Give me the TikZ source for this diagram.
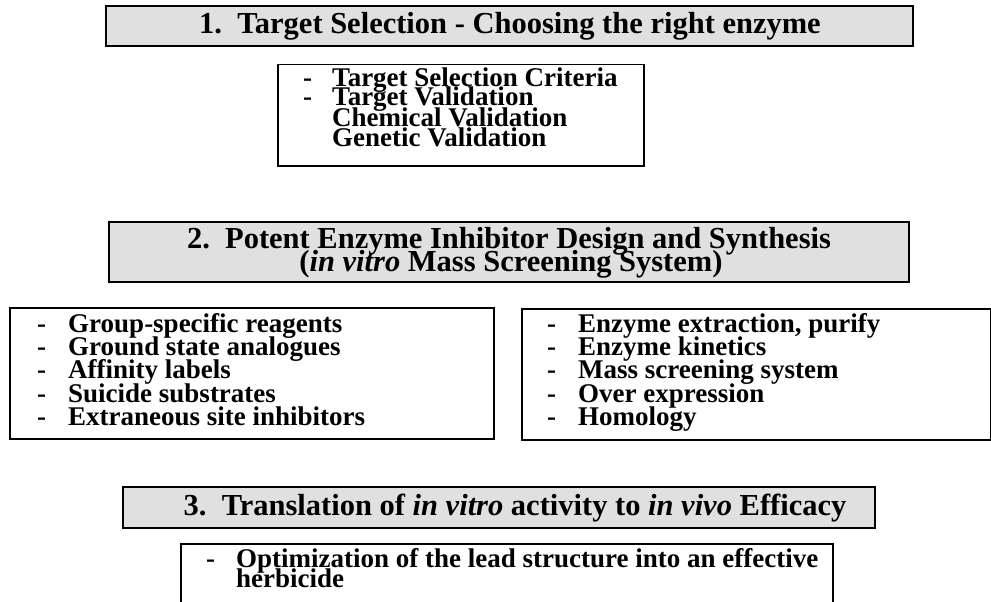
\documentclass[tikz,border=0pt]{standalone}
\usepackage{fontspec}
\setmainfont{Liberation Serif}
\newcommand\dashline[2]{\makebox[#1][l]{-}#2}
\begin{document}
\begin{tikzpicture}[x=1pt, y=-1pt,
  hdrbox/.style={draw=black, line width=1.8pt, fill=black!12, inner sep=0pt, anchor=north west},
  lstbox/.style={draw=black, line width=1.5pt, inner sep=0pt, anchor=north west},
  hdrtxt/.style={font=\bfseries\fontsize{30.5}{23}\selectfont, inner sep=0pt, anchor=base},
  lsttxt/.style={font=\bfseries\fontsize{27}{20}\selectfont, inner sep=0pt, anchor=base west},
]
\useasboundingbox (0,0) rectangle (991,602);

% ---- 1 ----
\node[hdrbox, minimum width=807pt, minimum height=40pt] (h1) at (105,5) {};
\node[hdrtxt] (h1t) at (510,34) {1.\hspace{0.5em}Target Selection - Choosing the right enzyme};

\node[lstbox, minimum width=366pt, minimum height=101pt] (l1) at (277,64) {};
\node[lsttxt] (l1a) at (303,86) {\dashline{29pt}{Target Selection Criteria}};
\node[lsttxt] (l1b) at (303,106) {\dashline{29pt}{Target Validation}};
\node[lsttxt] (l1c) at (332,126) {Chemical Validation};
\node[lsttxt] (l1d) at (332,146) {Genetic Validation};

% ---- 2 ----
\node[hdrbox, minimum width=800pt, minimum height=60pt] (h2) at (108,221) {};
\node[hdrtxt] (h2a) at (509,248) {2.\hspace{0.5em}Potent Enzyme Inhibitor Design and Synthesis};
\node[hdrtxt] (h2b) at (511,271) {(\textit{in vitro} Mass Screening System)};

\node[lstbox, minimum width=484pt, minimum height=131pt] (l2) at (9,307) {};
\node[lsttxt] (l2a) at (37,332) {\dashline{31pt}{Group-specific reagents}};
\node[lsttxt] (l2b) at (37,355.3) {\dashline{31pt}{Ground state analogues}};
\node[lsttxt] (l2c) at (37,378.6) {\dashline{31pt}{Affinity labels}};
\node[lsttxt] (l2d) at (37,402) {\dashline{31pt}{Suicide substrates}};
\node[lsttxt] (l2e) at (37,425) {\dashline{31pt}{Extraneous site inhibitors}};

\node[lstbox, minimum width=469pt, minimum height=131pt] (r2) at (521,308) {};
\node[lsttxt] (r2a) at (547,332) {\dashline{31pt}{Enzyme extraction, purify}};
\node[lsttxt] (r2b) at (547,355.3) {\dashline{31pt}{Enzyme kinetics}};
\node[lsttxt] (r2c) at (547,378.6) {\dashline{31pt}{Mass screening system}};
\node[lsttxt] (r2d) at (547,402) {\dashline{31pt}{Over expression}};
\node[lsttxt] (r2e) at (547,425) {\dashline{31pt}{Homology}};

% ---- 3 ----
\node[hdrbox, minimum width=752pt, minimum height=41pt] (h3) at (122,486) {};
\node[hdrtxt] (h3t) at (515,515) {3.\hspace{0.5em}Translation of \textit{in vitro} activity to \textit{in vivo} Efficacy};

\node[lstbox, minimum width=652pt, minimum height=80pt] (l3) at (180,543) {};
\node[lsttxt] (l3a) at (206,567) {\dashline{30pt}{Optimization of the lead structure into an effective}};
\node[lsttxt] (l3b) at (236,587) {herbicide};
\end{tikzpicture}
\end{document}
